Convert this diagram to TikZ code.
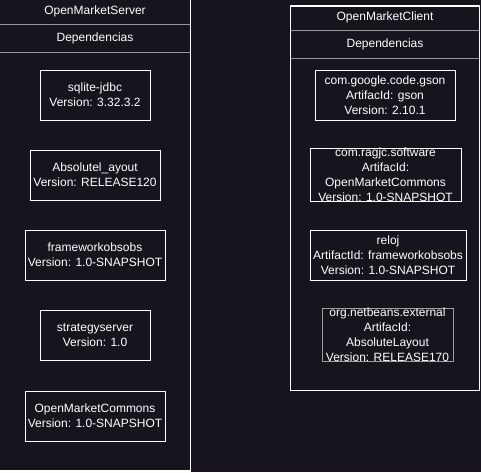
\documentclass[tikz,border=0pt]{standalone}
\usepackage{fontspec}
\setmainfont{Liberation Sans}
\usetikzlibrary{positioning}

\definecolor{bgdark}{RGB}{24,20,29}
\definecolor{sepgray}{RGB}{150,150,150}
\definecolor{boxgray}{RGB}{160,160,160}

\tikzset{
  txt/.style={text=white,inner sep=0pt,font=\fontsize{12}{15}\selectfont},
  dep/.style={txt,draw=white,line width=1pt,align=center,minimum height=50pt},
  container/.style={draw=white,line width=1.5pt},
  sep/.style={draw=sepgray,line width=1pt}
}

\begin{document}
\begin{tikzpicture}[x=1pt,y=-1pt,node distance=29pt]
 \fill[bgdark] (0,0) rectangle (481,472);
 \useasboundingbox (0,0) rectangle (481,472);

 %Containers
 \draw[container] (-2,-2) rectangle (190.5,470.8);
 \draw[container] (290.5,6) rectangle (479.5,390.5);

 %Separators
 \draw[sep] (0,24) -- (190,24);
 \draw[sep] (0,52) -- (190,52);
 \draw[sep] (291,30) -- (479,30);
 \draw[sep] (291,58) -- (479,58);

 %Name
 \node (server) [txt] at (95,11) {OpenMarketServer};
 \node (serverdeps) [txt] at (95,38) {Dependencias};
 \node (client) [txt] at (385,17) {OpenMarketClient};
 \node (clientdeps) [txt] at (385,44) {Dependencias};

 %Server dependencies
 \node (sqlite) [dep,minimum width=110pt] at (95,95) {sqlite-jdbc\\Version: 3.32.3.2};
 \node (absolute) [dep,minimum width=130pt,below=of sqlite] {Absolutel\_ayout\\Version: RELEASE120};
 \node (framework) [dep,minimum width=140pt,below=of absolute] {frameworkobsobs\\Version: 1.0-SNAPSHOT};
 \node (strategy) [dep,minimum width=110pt,below=of framework] {strategyserver\\Version: 1.0};
 \node (commons) [dep,minimum width=140pt,below=30pt of strategy] {OpenMarketCommons\\Version: 1.0-SNAPSHOT};

 %Client dependencies
 \node (gson) [dep,minimum width=140pt] at (385,95) {com.google.code.gson\\ArtifacId: gson\\Version: 2.10.1};
 \node (ragjc) [dep,minimum width=151pt] at (385.5,175) {com.ragjc.software\\ArtifacId:\\OpenMarketCommons\\Version: 1.0-SNAPSHOT};
 \node (reloj) [dep,minimum width=156pt] at (388,255) {reloj\\ArtifactId: frameworkobsobs\\Version: 1.0-SNAPSHOT};
 \node (netbeans) [dep,draw=boxgray,minimum width=131pt] at (387.5,335) {org.netbeans.external\\ArtifacId:\\AbsoluteLayout\\Version: RELEASE170};

\end{tikzpicture}
\end{document}
